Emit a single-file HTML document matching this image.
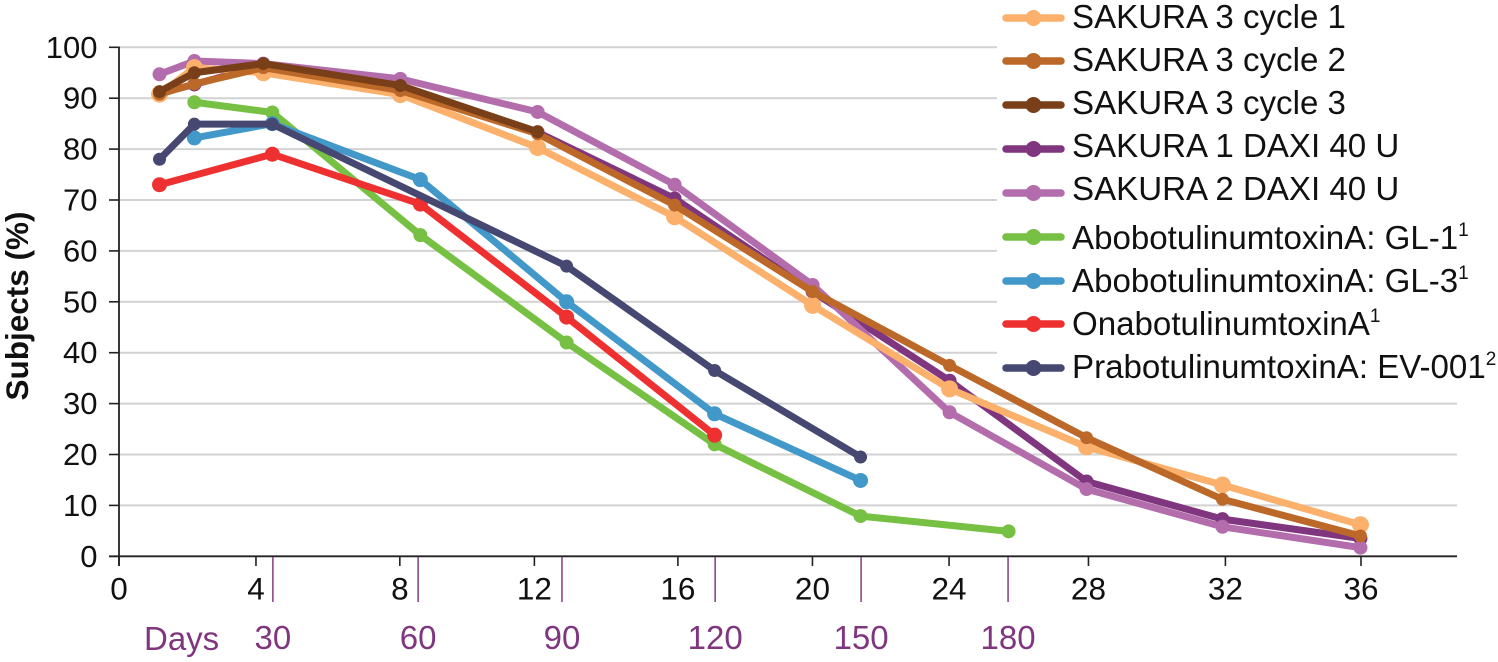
<!DOCTYPE html>
<html lang="en">
<head>
<meta charset="utf-8">
<title>Subjects (%) over time</title>
<style>
  html, body { margin: 0; padding: 0; background: #fff; }
  body { width: 1498px; height: 662px; overflow: hidden; }
  svg { display: block; font-family: "Liberation Sans", Arial, sans-serif; }
  .leg { font-size: 33.1px; fill: #111; }
  .legsup { font-size: 19px; fill: #111; }
</style>
</head>
<body>
<svg id="chart" width="1498" height="662" viewBox="0 0 1498 662" xmlns="http://www.w3.org/2000/svg">
  <rect width="1498" height="662" fill="#fff"/>
  <g id="grid"></g>
  <rect x="997" y="0" width="501" height="386" fill="#fff"/>
  <g id="axes"></g>
  <g id="series"></g>
  <text transform="translate(28,306) rotate(-90)" text-anchor="middle" font-size="31.5" font-weight="700" fill="#111">Subjects (%)</text>
  <text x="144" y="650" font-size="33" fill="#80367F">Days</text>

  <g>
    <g>
      <line x1="1006" x2="1061" y1="18" y2="18" stroke="#FBB06C" stroke-width="7.5" stroke-linecap="round"/><circle cx="1033.5" cy="18" r="8" fill="#FBB06C"/>
      <text class="leg" x="1072" y="28">SAKURA 3 cycle 1</text>
    </g>
    <g>
      <line x1="1006" x2="1061" y1="61" y2="61" stroke="#BC6828" stroke-width="7.5" stroke-linecap="round"/><circle cx="1033.5" cy="61" r="8" fill="#BC6828"/>
      <text class="leg" x="1072" y="71">SAKURA 3 cycle 2</text>
    </g>
    <g>
      <line x1="1006" x2="1061" y1="105" y2="105" stroke="#783F18" stroke-width="7.5" stroke-linecap="round"/><circle cx="1033.5" cy="105" r="8" fill="#783F18"/>
      <text class="leg" x="1072" y="114">SAKURA 3 cycle 3</text>
    </g>
    <g>
      <line x1="1006" x2="1061" y1="149" y2="149" stroke="#80367F" stroke-width="7.5" stroke-linecap="round"/><circle cx="1033.5" cy="149" r="8" fill="#80367F"/>
      <text class="leg" x="1072" y="157">SAKURA 1 DAXI 40 U</text>
    </g>
    <g>
      <line x1="1006" x2="1061" y1="193" y2="193" stroke="#B46DAC" stroke-width="7.5" stroke-linecap="round"/><circle cx="1033.5" cy="193" r="8" fill="#B46DAC"/>
      <text class="leg" x="1072" y="200">SAKURA 2 DAXI 40 U</text>
    </g>
    <g>
      <line x1="1006" x2="1061" y1="237" y2="237" stroke="#76C043" stroke-width="7.5" stroke-linecap="round"/><circle cx="1033.5" cy="237" r="8" fill="#76C043"/>
      <text class="leg" x="1072" y="249">AbobotulinumtoxinA: GL-1<tspan class="legsup" dy="-13">1</tspan></text>
    </g>
    <g>
      <line x1="1006" x2="1061" y1="281" y2="281" stroke="#4198C9" stroke-width="7.5" stroke-linecap="round"/><circle cx="1033.5" cy="281" r="8" fill="#4198C9"/>
      <text class="leg" x="1072" y="292">AbobotulinumtoxinA: GL-3<tspan class="legsup" dy="-13">1</tspan></text>
    </g>
    <g>
      <line x1="1006" x2="1061" y1="324" y2="324" stroke="#EE3030" stroke-width="7.5" stroke-linecap="round"/><circle cx="1033.5" cy="324" r="8" fill="#EE3030"/>
      <text class="leg" x="1072" y="335">OnabotulinumtoxinA<tspan class="legsup" dy="-13">1</tspan></text>
    </g>
    <g>
      <line x1="1006" x2="1061" y1="368" y2="368" stroke="#464872" stroke-width="7.5" stroke-linecap="round"/><circle cx="1033.5" cy="368" r="8" fill="#464872"/>
      <text class="leg" x="1072" y="378">PrabotulinumtoxinA: EV-001<tspan class="legsup" dy="-13">2</tspan></text>
    </g>
  </g>
</svg>

<script>
// ---- chart data ----
const yTickValues = [0, 10, 20, 30, 40, 50, 60, 70, 80, 90, 100];
const weekTickLabels = ["0", "4", "8", "12", "16", "20", "24", "28", "32", "36"];
const weekTickAt = [0, 3.97, 8.14, 12.04, 16.2, 20.1, 24.06, 28.1, 32.07, 36];
const dayTickLabels = ["30", "60", "90", "120", "150", "180"];
const dayTickAt = [4.46, 8.67, 12.84, 17.28, 21.51, 25.77];

const sakuraWeeks = [1.16, 2.17, 4.17, 8.14, 12.12, 16.09, 20.09, 24.06, 28.03, 31.97, 35.97];
const sakura3Cycle1 = [90.8, 96, 95, 90.7, 80.3, 66.7, 49.3, 32.9, 21.5, 14, 6.2];
const sakura3Cycle2 = [90.8, 92.8, 96, 91.5, 83, 69, 52, 37.5, 23.3, 11.2, 4];
const sakura3Cycle3 = [91.3, 95, 96.8, 92.5, 83.4];
const sakura1Daxi = [91, 92.7, 96.5, 92, 83.3, 70.3, 52, 34.5, 14.7, 7.3, 3.5];
const sakura2Daxi = [94.7, 97.3, 96.8, 93.8, 87.3, 73, 53.3, 28.3, 13.2, 5.8, 1.7];

const gl1Weeks = [2.17, 4.43, 8.72, 12.96, 17.25, 21.48, 25.77];
const gl1Values = [89.2, 87.2, 63.1, 42, 22, 7.9, 4.9];
const gl3Weeks = [2.17, 4.43, 8.72, 12.96, 17.25, 21.48];
const gl3Values = [82.2, 85, 74, 50, 28, 14.9];
const onaWeeks = [1.16, 4.43, 8.72, 12.96, 17.25];
const onaValues = [73, 79, 69.2, 47, 23.8];
const praWeeks = [1.16, 2.17, 4.43, 12.96, 17.25, 21.48];
const praValues = [78, 84.9, 84.9, 57, 36.5, 19.5];

// ---- axis functions ----
const NS = "http://www.w3.org/2000/svg";
function xScale(w) { return 119.5 + w * 34.5; }
function yScale(v) { return 556.3 - v * 5.09; }

function make(parent, tag, attrs, text) {
  const el = document.createElementNS(NS, tag);
  for (const k in attrs) el.setAttribute(k, attrs[k]);
  if (text !== undefined) el.textContent = text;
  parent.appendChild(el);
  return el;
}

const gridGroup = document.getElementById("grid");
const axesGroup = document.getElementById("axes");
const seriesGroup = document.getElementById("series");

// gridlines and y ticks
yTickValues.forEach(function (v) {
  if (v > 0) {
    const g = make(gridGroup, "line", { x1: 119, x2: 1457, y1: yScale(v), y2: yScale(v), stroke: "#D2D2D2", "stroke-width": 2 });
    
    
  }
  const t = make(axesGroup, "line", { x1: 109, x2: 119, y1: yScale(v), y2: yScale(v), stroke: "#222", "stroke-width": 1.6 });
  
  
  const l = make(axesGroup, "text", { x: 97.5, y: yScale(v) + 10.5, "text-anchor": "end", "font-size": 31, fill: "#111" }, String(v));
  
  
});

// axis lines
const yAxisLine = make(axesGroup, "line", { x1: 119, x2: 119, y1: yScale(100) - 0.8, y2: 566, stroke: "#222", "stroke-width": 1.8 });


const xAxisLine = make(axesGroup, "line", { x1: 109, x2: 1457, y1: 556.3, y2: 556.3, stroke: "#222", "stroke-width": 1.8 });



// week ticks
weekTickLabels.forEach(function (lab, i) {
  const x = xScale(weekTickAt[i]) - 0.5;
  const t = make(axesGroup, "line", { x1: x, x2: x, y1: 556, y2: 566, stroke: "#222", "stroke-width": 1.6 });
  
  
  const l = make(axesGroup, "text", { x: x, y: 599.5, "text-anchor": "middle", "font-size": 31.5, fill: "#111" }, lab);
  
  
});

// day ticks
dayTickLabels.forEach(function (lab, i) {
  const x = xScale(dayTickAt[i]) - 0.5;
  const t = make(axesGroup, "line", { x1: x, x2: x, y1: 557, y2: 602, stroke: "#8B4A8A", "stroke-width": 1.6 });
  
  
  const l = make(axesGroup, "text", { x: x, y: 649, "text-anchor": "middle", "font-size": 33, fill: "#80367F" }, lab);
  
  
});

// series, bottom to top
function drawSeries(weeks, values, color, r, name) {
  const g = make(seriesGroup, "g", {});
  
  
  const pts = values.map(function (v, i) { return xScale(weeks[i]) + "," + yScale(v); }).join(" ");
  const line = make(g, "polyline", { points: pts, fill: "none", stroke: color, "stroke-width": 7, "stroke-linejoin": "round", "stroke-linecap": "round" });
  
  
  values.forEach(function (v, i) {
    const c = make(g, "circle", { cx: xScale(weeks[i]), cy: yScale(v), r: r, fill: color });
    
    
  });
}

drawSeries(gl1Weeks, gl1Values, "#76C043", 7, "series-abobotulinumtoxina-gl-1");
drawSeries(gl3Weeks, gl3Values, "#4198C9", 7.5, "series-abobotulinumtoxina-gl-3");
drawSeries(onaWeeks, onaValues, "#EE3030", 7.5, "series-onabotulinumtoxina");
drawSeries(praWeeks, praValues, "#464872", 6.5, "series-prabotulinumtoxina-ev-001");
drawSeries(sakuraWeeks, sakura1Daxi, "#80367F", 7, "series-sakura-1-daxi");
drawSeries(sakuraWeeks, sakura2Daxi, "#B46DAC", 7, "series-sakura-2-daxi");
drawSeries(sakuraWeeks, sakura3Cycle1, "#FBB06C", 8.5, "series-sakura-3-cycle-1");
drawSeries(sakuraWeeks, sakura3Cycle2, "#BC6828", 6.5, "series-sakura-3-cycle-2");
drawSeries(sakuraWeeks, sakura3Cycle3, "#783F18", 6.5, "series-sakura-3-cycle-3");
</script>
</body>
</html>
